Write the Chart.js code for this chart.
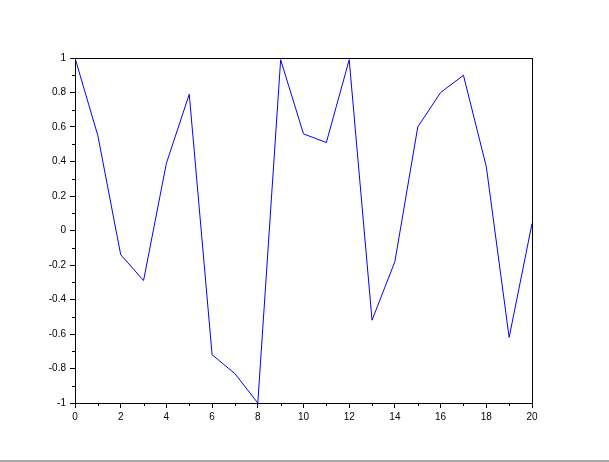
<!DOCTYPE html>
<html>
<head>
<meta charset="utf-8">
<script src="https://cdn.jsdelivr.net/npm/chart.js@4"></script>
<style>
    html, body { margin: 0; padding: 0; background: #fff; }
    #wrap { position: relative; width: 609px; height: 462px; }
    #bar { position: absolute; left: 0; top: 460px; width: 609px; height: 2px; background: #a8a8a8; }
</style>
</head>
<body>
<div id="wrap">
    <canvas id="grafico" width="609" height="462"></canvas>
    <div id="bar"></div>
</div>
<script>
// Dados
const xValores = [0, 1, 2, 3, 4, 5, 6, 7, 8, 9, 10, 11, 12, 13, 14, 15, 16, 17, 18, 19, 20];
const yValores = [1.0, 0.55, -0.14, -0.29, 0.39, 0.79, -0.72, -0.83, -1.0, 0.99, 0.56,
                  0.51, 0.99, -0.52, -0.18, 0.60, 0.80, 0.90, 0.37, -0.62, 0.04];

// Ticks menores
const xMenores = [1, 3, 5, 7, 9, 11, 13, 15, 17, 19];
const yMenores = [-0.9, -0.7, -0.5, -0.3, -0.1, 0.1, 0.3, 0.5, 0.7, 0.9];

const fonte = { family: 'Liberation Sans, Arial, sans-serif', size: 10 };

// Caixa em volta + ticks menores
const caixaPlugin = {
    id: 'caixa',
    afterDraw(chart) {
        const { ctx, chartArea: a, scales } = chart;
        ctx.save();
        ctx.strokeStyle = '#000';
        ctx.lineWidth = 1;
        ctx.strokeRect(Math.round(a.left) + 0.5, Math.round(a.top) + 0.5,
            Math.round(a.right - a.left), Math.round(a.bottom - a.top));
        ctx.beginPath();
        xMenores.forEach(v => {
            const px = Math.round(scales.x.getPixelForValue(v)) + 0.5;
            ctx.moveTo(px, Math.round(a.bottom));
            ctx.lineTo(px, Math.round(a.bottom) + 3);
        });
        yMenores.forEach(v => {
            const py = Math.round(scales.y.getPixelForValue(v)) + 0.5;
            ctx.moveTo(Math.round(a.left) + 1, py);
            ctx.lineTo(Math.round(a.left) - 3, py);
        });
        ctx.stroke();
        ctx.restore();
    }
};

new Chart(document.getElementById('grafico'), {
    type: 'line',
    data: {
        datasets: [{
            data: xValores.map((x, i) => ({ x: x, y: yValores[i] })),
            borderColor: '#0000ff',
            borderWidth: 1,
            pointRadius: 0,
            tension: 0,
            fill: false
        }]
    },
    options: {
        responsive: false,
        animation: false,
        events: [],
        layout: { padding: { left: 0, top: 58, right: 77, bottom: 29 } },
        plugins: { legend: { display: false }, tooltip: { enabled: false } },
        scales: {
            x: {
                type: 'linear',
                min: 0,
                max: 20,
                afterFit: (s) => { s.height = 30; },
                ticks: { stepSize: 2, color: '#000', font: fonte, padding: 3, maxRotation: 0 },
                grid: { drawOnChartArea: false, tickLength: 5, color: '#000' },
                border: { color: '#000', width: 1 }
            },
            y: {
                min: -1,
                max: 1,
                afterFit: (s) => { s.width = 75; },
                ticks: {
                    stepSize: 0.2, color: '#000', font: fonte, padding: 4,
                    callback: (v) => String(Number(v.toFixed(1)))
                },
                grid: { drawOnChartArea: false, tickLength: 5, color: '#000' },
                border: { color: '#000', width: 1 }
            }
        }
    },
    plugins: [caixaPlugin]
});
</script>
</body>
</html>
